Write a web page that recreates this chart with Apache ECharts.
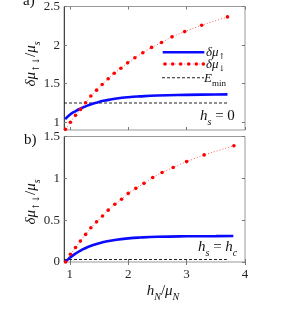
<!DOCTYPE html>
<html><head><meta charset="utf-8">
<script src="https://cdn.jsdelivr.net/npm/echarts@6/dist/echarts.min.js"></script>
<style>html,body{margin:0;padding:0;background:#fff}#c{width:300px;height:318px}</style>
</head><body><div id="c"></div>
<script>
// ---- data ----
const xTicks = [1, 2, 3, 4];
const yTicksA = [1, 1.5, 2, 2.5];
const yTicksB = [0, 0.5, 1, 1.5];

// panel a) h_s = 0
const xUpA = [0.92, 1.0, 1.1, 1.2, 1.3, 1.4, 1.5, 1.6, 1.8, 2.0, 2.2, 2.5, 3.0, 3.5, 3.7];
const yUpA = [1.04, 1.098, 1.146, 1.184, 1.216, 1.242, 1.264, 1.281, 1.307, 1.325, 1.336, 1.347, 1.355, 1.36, 1.362];
const xDownA = [0.926, 1.01, 1.098, 1.183, 1.27, 1.36, 1.458, 1.554, 1.657, 1.76, 1.874, 1.99, 2.114, 2.25, 2.40, 2.57, 2.75, 2.967, 3.258, 3.70];
const yDownA = [0.91, 1.0, 1.09, 1.167, 1.254, 1.34, 1.416, 1.49, 1.563, 1.635, 1.70, 1.77, 1.837, 1.90, 1.97, 2.034, 2.107, 2.175, 2.258, 2.365];
const xEminA = [0.9, 3.7];
const yEminA = [1.25, 1.25];

// panel b) h_s = h_c
const xUpB = [0.92, 1.0, 1.1, 1.2, 1.3, 1.4, 1.5, 1.6, 1.8, 2.0, 2.2, 2.5, 3.0, 3.5, 3.8];
const yUpB = [0.0, 0.051, 0.102, 0.143, 0.177, 0.203, 0.224, 0.241, 0.266, 0.282, 0.292, 0.301, 0.307, 0.309, 0.31];
const xDownB = [0.926, 1.01, 1.098, 1.18, 1.27, 1.36, 1.458, 1.56, 1.657, 1.77, 1.886, 2.0, 2.13, 2.27, 2.42, 2.58, 2.77, 3.0, 3.3, 3.81];
const yDownB = [0.0, 0.092, 0.173, 0.25, 0.33, 0.41, 0.48, 0.55, 0.62, 0.69, 0.75, 0.82, 0.88, 0.94, 1.01, 1.07, 1.13, 1.20, 1.28, 1.39];
const xEminB = [0.9, 3.69];
const yEminB = [0.03, 0.03];

const pairs = (xs, ys) => xs.map((x, i) => [x, ys[i]]);

const FONT = 'Liberation Serif';
const ARROWF = 'DejaVu Serif';
const TXT = '#262626';
const BLUE = '#0a0aff';
const RED = '#ff0000';

function xAx(grid, pos, labels) {
  return {
    gridIndex: grid, type: 'value', position: pos, min: 0.9, max: 4,
    axisLine: { show: false },
    axisTick: { show: true, inside: true, length: 3, customValues: xTicks, lineStyle: { color: '#777' } },
    axisLabel: { show: labels, customValues: xTicks, fontFamily: FONT, fontSize: 13, color: TXT, margin: 6 },
    splitLine: { show: false }
  };
}
function yAx(grid, pos, min, max, ticks, labels) {
  return {
    gridIndex: grid, type: 'value', position: pos, min: min, max: max,
    axisLine: { show: pos === 'left', lineStyle: { color: '#444', width: 1 } },
    axisTick: { show: true, inside: true, length: 3, customValues: ticks, lineStyle: { color: '#777' } },
    axisLabel: { show: labels, customValues: ticks, fontFamily: FONT, fontSize: 13, color: TXT, margin: 4 },
    splitLine: { show: false }
  };
}

const upLine = { type: 'line', symbol: 'none', smooth: true, lineStyle: { color: BLUE, width: 2.6 }, z: 3 };
const downLine = { type: 'line', symbol: 'circle', symbolSize: 3.6, itemStyle: { color: RED }, showSymbol: true,
  lineStyle: { color: 'rgba(255,40,40,0.75)', width: 1, type: [1, 2] }, clip: false, z: 4 };
const eminLine = { type: 'line', symbol: 'none', lineStyle: { color: '#222', width: 1.1, type: [3, 2] }, z: 2 };

const rich = {
  i: { fontFamily: FONT, fontStyle: 'italic', fontSize: 15, lineHeight: 16, fill: '#111', verticalAlign: 'top' },
  n: { fontFamily: FONT, fontSize: 15, lineHeight: 16, fill: '#111', verticalAlign: 'top' },
  s: { fontFamily: FONT, fontStyle: 'italic', fontSize: 10, lineHeight: 10, padding: [8, 0, 0, 0], fill: '#111', verticalAlign: 'top' },
  a: { fontFamily: ARROWF, fontSize: 9, lineHeight: 10, padding: [8, 0, 0, 0], fill: '#111', verticalAlign: 'top' }
};
const richS = {
  i: { fontFamily: FONT, fontStyle: 'italic', fontSize: 13, lineHeight: 14, fill: '#111', verticalAlign: 'top' },
  n: { fontFamily: FONT, fontSize: 13, lineHeight: 14, fill: '#111', verticalAlign: 'top' },
  su: { fontFamily: FONT, fontSize: 9, lineHeight: 9, padding: [7, 0, 0, 0], fill: '#111', verticalAlign: 'top' },
  a: { fontFamily: ARROWF, fontSize: 8, lineHeight: 9, padding: [7, 0, 0, 0], fill: '#111', verticalAlign: 'top' }
};

function txt(x, y, text, r, opts) {
  return Object.assign({ type: 'text', x: x, y: y, z: 100,
    style: { text: text, rich: r, align: 'left', verticalAlign: 'middle' } }, opts || {});
}
const YLAB = '{i|δμ}{a|↑↓}{n|/}{i|μ}{s|s}';

const legendDots = [165, 172.7, 180.7, 188.7, 196.3, 203.3].map(cx => ({
  type: 'circle', shape: { cx: cx, cy: 64, r: 1.8 }, style: { fill: RED }, z: 100 }));

const option = {
  animation: false,
  backgroundColor: '#fff',
  grid: [
    { left: 64, top: 5.5, width: 181, height: 124.5, show: true, borderColor: '#999', borderWidth: 1, backgroundColor: 'transparent' },
    { left: 64, top: 136.5, width: 181, height: 125.5, show: true, borderColor: '#999', borderWidth: 1, backgroundColor: 'transparent' }
  ],
  xAxis: [xAx(0, 'bottom', false), xAx(0, 'top', false), xAx(1, 'bottom', true), xAx(1, 'top', false)],
  yAxis: [yAx(0, 'left', 0.9, 2.5, yTicksA, true), yAx(0, 'right', 0.9, 2.5, yTicksA, false),
          yAx(1, 'left', 0, 1.5, yTicksB, true), yAx(1, 'right', 0, 1.5, yTicksB, false)],
  series: [
    Object.assign({}, eminLine, { xAxisIndex: 0, yAxisIndex: 0, data: pairs(xEminA, yEminA) }),
    Object.assign({}, upLine, { xAxisIndex: 0, yAxisIndex: 0, data: pairs(xUpA, yUpA) }),
    Object.assign({}, downLine, { xAxisIndex: 0, yAxisIndex: 0, data: pairs(xDownA, yDownA) }),
    Object.assign({}, eminLine, { xAxisIndex: 2, yAxisIndex: 2, data: pairs(xEminB, yEminB) }),
    Object.assign({}, upLine, { xAxisIndex: 2, yAxisIndex: 2, data: pairs(xUpB, yUpB) }),
    Object.assign({}, downLine, { xAxisIndex: 2, yAxisIndex: 2, data: pairs(xDownB, yDownB) })
  ],
  graphic: [
    txt(23, 2, '{n|a)}', rich),
    txt(24, 141, '{n|b)}', rich),
    txt(32, 64, YLAB, rich, { rotation: Math.PI / 2, style: { text: YLAB, rich: rich, align: 'center', verticalAlign: 'middle' } }),
    txt(32, 202, YLAB, rich, { rotation: Math.PI / 2, style: { text: YLAB, rich: rich, align: 'center', verticalAlign: 'middle' } }),
    txt(163, 292, '{i|h}{s|N}{n|/}{i|μ}{s|N}', rich, { style: { text: '{i|h}{s|N}{n|/}{i|μ}{s|N}', rich: rich, align: 'center', verticalAlign: 'middle' } }),
    { type: 'line', shape: { x1: 162.7, y1: 52.3, x2: 204.3, y2: 52.3 }, style: { stroke: BLUE, lineWidth: 2.6 }, z: 100 },
    txt(206, 53, '{i|δμ}{a|↑}', richS),
    { type: 'line', shape: { x1: 163, y1: 64, x2: 205, y2: 64 }, style: { stroke: 'rgba(230,60,200,0.7)', lineWidth: 1, lineDash: [1, 2] }, z: 99 },
    ...legendDots,
    txt(206, 65, '{i|δμ}{a|↓}', richS),
    { type: 'line', shape: { x1: 162, y1: 77.7, x2: 204, y2: 77.7 }, style: { stroke: '#222', lineWidth: 1.1, lineDash: [3, 2] }, z: 100 },
    txt(204, 79, '{i|E}{su|min}', richS),
    txt(200, 117, '{i|h}{s|s}{n| = 0}', rich),
    txt(198, 248, '{i|h}{s|s}{n| = }{i|h}{s|c}', rich)
  ]
};

const chart = echarts.init(document.getElementById('c'), null, { renderer: 'canvas', width: 300, height: 318 });
chart.setOption(option);
</script></body></html>
